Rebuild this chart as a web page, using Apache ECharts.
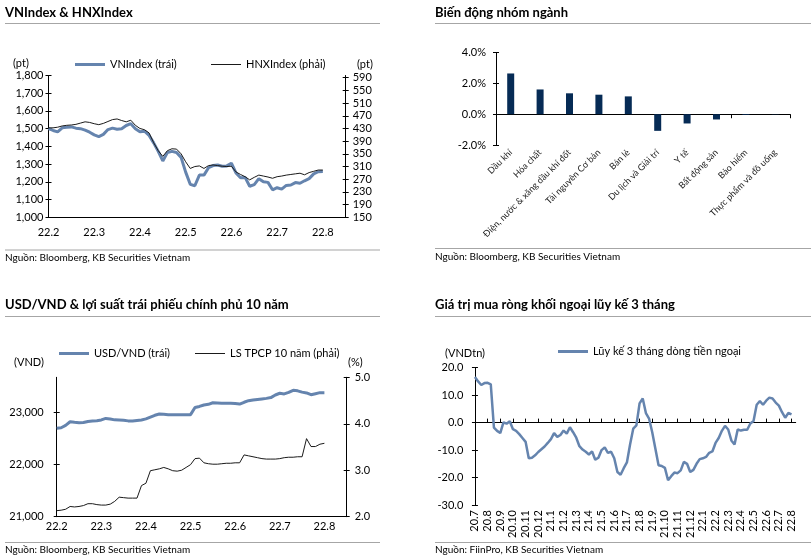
<!DOCTYPE html>
<html><head><meta charset="utf-8">
<script src="https://cdn.jsdelivr.net/npm/echarts@6/dist/echarts.min.js"></script>
<style>html,body{margin:0;padding:0;background:#fff}#c{width:811px;height:559px}</style>
</head><body><div id="c"></div><script>
const FONT = 'Lato, "Noto Sans", "DejaVu Sans", sans-serif';

// ---- Panel 1: VNIndex & HNXIndex (points every 0.1 month from 22.2) ----
const p1Months = ['22.2','22.3','22.4','22.5','22.6','22.7','22.8'];
const p1Step = 0.1;
const vnIndex = [1500,1490,1482,1505,1508,1510,1503,1500,1492,1480,1465,1455,1468,1495,1503,1497,1500,1518,1528,1500,1483,1486,1462,1420,1372,1318,1365,1372,1366,1338,1255,1186,1178,1238,1238,1280,1292,1295,1288,1290,1305,1250,1223,1225,1175,1184,1218,1200,1197,1155,1167,1159,1180,1182,1196,1192,1206,1218,1245,1257,1258];
const hnxIndex = [432,432,434,438,440,441,443,447,451,449,445,442,446,452,458,460,455,451,456,440,430,426,416,385,360,342,360,366,365,350,325,304,310,312,304,313,315,313,311,310,311,293,285,278,268,276,283,280,277,273,278,280,283,285,287,289,284,291,295,299,299];
const p1LeftTicks = [1000,1100,1200,1300,1400,1500,1600,1700,1800];
const p1RightTicks = [150,190,230,270,310,350,390,430,470,510,550,590];

// ---- Panel 2: sector change ----
const sectors = ['Dầu khí','Hóa chất','Điện, nước & xăng dầu khí đốt','Tài nguyên Cơ bản','Bán lẻ','Du lịch và Giải trí','Y tế','Bất động sản','Bảo hiểm','Thực phẩm và đồ uống'];
const sectorChange = [2.65,1.61,1.36,1.27,1.16,-1.08,-0.60,-0.34,-0.05,-0.02];
const p2Ticks = [-2,0,2,4];

// ---- Panel 3: USD/VND & 10y bond yield (points every 0.1 month from 22.2) ----
const p3Step = 0.1;
const usdVnd = [22700,22710,22755,22825,22815,22808,22810,22830,22840,22846,22860,22890,22880,22862,22860,22855,22842,22840,22850,22860,22880,22915,22950,22975,22970,22962,22960,22960,22960,22960,22962,23100,23120,23148,23160,23190,23185,23180,23180,23180,23178,23165,23200,23230,23244,23255,23265,23275,23290,23340,23373,23360,23390,23430,23420,23395,23380,23345,23365,23385,23385];
const bondYield = [2.13,2.14,2.16,2.22,2.21,2.22,2.24,2.28,2.28,2.26,2.25,2.25,2.27,2.33,2.42,2.41,2.40,2.40,2.40,2.67,2.72,2.99,3.01,3.03,3.06,3.03,2.99,2.98,3.00,3.06,3.12,3.25,3.26,3.16,3.14,3.13,3.13,3.14,3.15,3.15,3.16,3.16,3.33,3.31,3.29,3.27,3.25,3.24,3.24,3.24,3.25,3.27,3.28,3.28,3.29,3.29,3.68,3.51,3.51,3.56,3.58];
const p3LeftTicks = [21000,22000,23000];
const p3RightTicks = [2,3,4,5];

// ---- Panel 4: foreign net buy, 3-month rolling (points every 0.25 month from 20.7) ----
const flowMonths = ['20.7','20.8','20.9','20.10','20.11','20.12','21.1','21.2','21.3','21.4','21.5','21.6','21.7','21.8','21.9','21.10','21.11','21.12','22.1','22.2','22.3','22.4','22.5','22.6','22.7','22.8'];
const p4Step = 0.25;
const foreignFlow = [16.6,15.0,13.7,14.4,14.5,13.9,-1.8,-3.0,-3.8,0.1,
-0.4,0.5,-2.4,-3.0,-4.2,-5.6,-7.0,-13.0,-12.8,-11.9,
-10.7,-9.7,-8.7,-7.4,-6.0,-3.8,-5.2,-4.5,-2.9,-4.0,
-1.7,-3.5,-5.5,-8.6,-9.8,-10.6,-11.6,-10.5,-13.5,-12.8,
-10.0,-9.0,-11.0,-10.6,-13.0,-18.0,-19.0,-16.6,-14.5,-8.0,
-2.2,-1.0,7.0,8.8,3.5,1.5,-3.5,-9.5,-15.5,-15.8,
-16.5,-21.0,-19.5,-18.2,-18.4,-17.4,-14.3,-15.0,-18.0,-17.2,
-15.0,-13.3,-13.0,-12.5,-11.0,-10.5,-7.4,-5.6,-3.0,-1.2,
-2.5,-6.5,-8.0,-2.5,-2.9,-2.6,-2.6,-0.3,0.6,6.5,
7.8,6.5,8.0,9.1,8.8,7.3,6.2,3.8,1.8,3.5,
3.0];
const p4Ticks = [-30,-20,-10,0,10,20];

const BLUE = '#6584AE', BLACK = '#1a1a1a', NAVY = '#062B55', AX = '#000';
const lbl = (o) => Object.assign({color:'#000', fontSize:11, fontFamily:FONT}, o || {});
const axLine = {show:true, lineStyle:{color:AX, width:1}};
const monthIdx = (n) => n.map((_, i) => i);

// main y axis (outer ticks + labels)
function yMain(grid, pos, min, max, ticks, margin, fmt) {
  return {type:'value', gridIndex:grid, position:pos, min, max,
    axisLine:axLine, axisTick:{show:true, length:3, lineStyle:{color:AX}, customValues:ticks},
    splitLine:{show:false},
    axisLabel:lbl({margin, customValues:ticks, formatter:fmt})};
}
// twin y axis drawing only the inner half of the crossing ticks
function yTwin(grid, pos, min, max, ticks) {
  return {type:'value', gridIndex:grid, position:pos, min, max,
    axisLine:{show:false}, axisTick:{show:true, inside:true, length:3, lineStyle:{color:AX}, customValues:ticks},
    splitLine:{show:false}, axisLabel:{show:false}};
}

function txt(text, x, y, o) {
  return {type:'text', silent:true, style:Object.assign({text, x, y, fill:'#000', fontSize:10, fontFamily:FONT, verticalAlign:'middle', align:'left'}, o || {})};
}
function hline(x1, y, x2, w) {
  return {type:'line', silent:true, shape:{x1, y1:y, x2, y2:y}, style:{stroke:'#a6a6a6', lineWidth:w || 1}};
}
function legend(name, left, cy, h) {
  return {data:[name], left, top:cy - 7, itemWidth:30, itemHeight:h, icon:'rect', selectedMode:false,
    textStyle:{color:'#000', fontSize:11, fontFamily:FONT, padding:[0,0,0,0]}};
}

const comma = (v) => v.toLocaleString('en-US');

const option = {
  animation:false,
  backgroundColor:'#fff',
  grid:[
    {left:48.5, top:75.5, width:297.2, height:141.8},
    {left:496, top:52.7, width:294, height:92.3},
    {left:56.7, top:377.3, width:290, height:139.4},
    {left:473.3, top:367.7, width:322.4, height:137.3}
  ],
  legend:[
    legend('VNIndex (trái)', 70, 61, 3),
    legend('HNXIndex (phải)', 206, 61, 1),
    legend('USD/VND (trái)', 54, 350, 3),
    legend('LS TPCP 10 năm (phải)', 190, 350, 1),
    legend('Lũy kế 3 tháng dòng tiền ngoại', 553, 348, 3)
  ],
  xAxis:[
    {type:'value', gridIndex:0, min:0, max:6.5, position:'bottom',
      axisLine:Object.assign({onZero:false}, axLine), axisTick:{show:false}, splitLine:{show:false},
      axisLabel:lbl({margin:10, customValues:monthIdx(p1Months), formatter:(v)=>p1Months[Math.round(v)]})},
    {type:'category', gridIndex:1, data:sectors, position:'bottom',
      axisLine:Object.assign({onZero:true}, axLine), axisTick:{show:true, length:4, lineStyle:{color:AX}},
      axisLabel:{show:false}, splitLine:{show:false}},
    {type:'category', gridIndex:1, data:sectors, position:'bottom',
      axisLine:{show:false, onZero:false}, axisTick:{show:false}, splitLine:{show:false},
      axisLabel:lbl({fontSize:9, rotate:45, margin:6, interval:0, color:'#222'})},
    {type:'value', gridIndex:2, min:0, max:6.5, position:'bottom',
      axisLine:Object.assign({onZero:false}, axLine), axisTick:{show:false}, splitLine:{show:false},
      axisLabel:lbl({margin:4, customValues:monthIdx(p1Months), formatter:(v)=>p1Months[Math.round(v)]})},
    {type:'value', gridIndex:3, min:-0.13, max:25.33, position:'bottom',
      axisLine:Object.assign({onZero:true}, axLine),
      axisTick:{show:true, inside:true, length:4, lineStyle:{color:AX}, customValues:monthIdx(flowMonths)},
      axisLabel:{show:false}, splitLine:{show:false}},
    {type:'value', gridIndex:3, min:-0.13, max:25.33, position:'bottom',
      axisLine:{show:false, onZero:false}, axisTick:{show:false}, splitLine:{show:false},
      axisLabel:lbl({rotate:90, margin:5, customValues:monthIdx(flowMonths), formatter:(v)=>flowMonths[Math.round(v)]})}
  ],
  yAxis:[
    yMain(0, 'left', 1000, 1800, p1LeftTicks, 5, comma),
    yMain(0, 'right', 150, 597, p1RightTicks, 7),
    yMain(1, 'left', -2, 4, p2Ticks, 10, (v)=>v.toFixed(1)+'%'),
    yMain(2, 'left', 21000, 23680, p3LeftTicks, 13, comma),
    yMain(2, 'right', 2, 5, p3RightTicks, 8, (v)=>v.toFixed(1)),
    yMain(3, 'left', -30, 20, p4Ticks, 10, (v)=>v.toFixed(1)),
    yTwin(0, 'left', 1000, 1800, p1LeftTicks),
    yTwin(0, 'right', 150, 597, p1RightTicks),
    yTwin(1, 'left', -2, 4, p2Ticks),
    yTwin(2, 'left', 21000, 23680, p3LeftTicks),
    yTwin(2, 'right', 2, 5, p3RightTicks),
    yTwin(3, 'left', -30, 20, p4Ticks)
  ],
  series:[
    {name:'VNIndex (trái)', type:'line', xAxisIndex:0, yAxisIndex:0, symbol:'none', z:2,
      color:BLUE, lineStyle:{color:BLUE, width:3}, data:vnIndex.map((v,i)=>[i*p1Step, v])},
    {name:'HNXIndex (phải)', type:'line', xAxisIndex:0, yAxisIndex:1, symbol:'none', z:3,
      color:BLACK, lineStyle:{color:BLACK, width:1}, data:hnxIndex.map((v,i)=>[i*p1Step, v])},
    {name:'Biến động', type:'bar', xAxisIndex:1, yAxisIndex:2, barWidth:7,
      itemStyle:{color:NAVY}, data:sectorChange},
    {name:'USD/VND (trái)', type:'line', xAxisIndex:3, yAxisIndex:3, symbol:'none',
      color:BLUE, lineStyle:{color:BLUE, width:3}, data:usdVnd.map((v,i)=>[i*p3Step, v])},
    {name:'LS TPCP 10 năm (phải)', type:'line', xAxisIndex:3, yAxisIndex:4, symbol:'none',
      color:BLACK, lineStyle:{color:BLACK, width:1}, data:bondYield.map((v,i)=>[i*p3Step, v])},
    {name:'Lũy kế 3 tháng dòng tiền ngoại', type:'line', xAxisIndex:4, yAxisIndex:5, symbol:'none',
      color:BLUE, lineStyle:{color:BLUE, width:2.5}, data:foreignFlow.map((v,i)=>[i*p4Step, v])}
  ],
  graphic:[
    txt('VNIndex & HNXIndex', 5, 12.5, {fontSize:13, fontWeight:'bold'}),
    txt('Biến động nhóm ngành', 435, 12.5, {fontSize:13, fontWeight:'bold'}),
    txt('USD/VND & lợi suất trái phiếu chính phủ 10 năm', 5, 305, {fontSize:13, fontWeight:'bold'}),
    txt('Giá trị mua ròng khối ngoại lũy kế 3 tháng', 435, 305, {fontSize:13, fontWeight:'bold'}),
    hline(5, 23.5, 380, 1.2), hline(435, 23.5, 811, 1.2),
    hline(5, 316.5, 380, 1.2), hline(435, 316.5, 811, 1.2),
    hline(5, 250, 380, 1.2), hline(435, 248.5, 811, 1.2),
    hline(5, 542.5, 380, 1.2), hline(435, 542.5, 811, 1.2),
    txt('Nguồn: Bloomberg, KB Securities Vietnam', 5, 257.5),
    txt('Nguồn: Bloomberg, KB Securities Vietnam', 435, 257),
    txt('Nguồn: Bloomberg, KB Securities Vietnam', 5, 550),
    txt('Nguồn: FiinPro, KB Securities Vietnam', 435, 550),
    txt('(pt)', 13, 63, {fontSize:11}),
    txt('(pt)', 357, 64, {fontSize:11}),
    txt('(VND)', 14, 362, {fontSize:11}),
    txt('(%)', 348, 362, {fontSize:11}),
    txt('(VNDtn)', 445, 353, {fontSize:11})
  ]
};
const chart = echarts.init(document.getElementById('c'), null, {renderer:'canvas'});
chart.setOption(option);
</script></body></html>
